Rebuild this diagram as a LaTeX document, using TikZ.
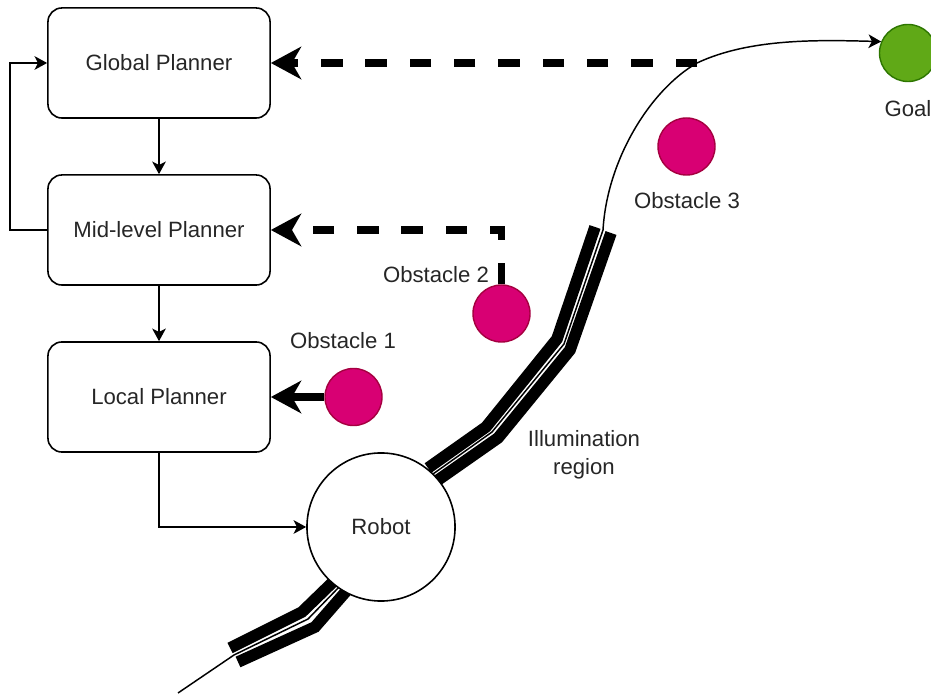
\documentclass[tikz,border=0pt]{standalone}
\usepackage{fontspec}
\setmainfont{Liberation Sans}
\usetikzlibrary{arrows.meta,backgrounds}
\definecolor{obsfill}{HTML}{D80073}
\definecolor{obsline}{HTML}{A50040}
\definecolor{goalfill}{HTML}{60A917}
\definecolor{goalline}{HTML}{2D7600}
\definecolor{txt}{HTML}{262626}
\begin{document}
\begin{tikzpicture}[x=0.01cm,y=-0.01cm,
  font=\fontsize{6.3pt}{7.6pt}\selectfont, text=txt,
  planner/.style={draw, rounded corners=0.14cm, minimum width=2.22cm,
    minimum height=1.1cm, line width=0.45pt, inner sep=0pt},
  robotnode/.style={circle, draw, fill=white, minimum size=1.48cm,
    inner sep=0pt, line width=0.45pt},
  obstacle/.style={circle, draw=obsline, fill=obsfill, minimum size=0.57cm,
    inner sep=0pt, line width=0.4pt},
  goalnode/.style={circle, draw=goalline, fill=goalfill, minimum size=0.57cm,
    inner sep=0pt, line width=0.4pt},
  tag/.style={inner sep=0pt},
  flow/.style={line width=0.42pt,
    -{Stealth[length=3.6pt,width=3.9pt,inset=1pt]}},
  feedback/.style={line width=2pt,
    -{Stealth[length=8.6pt,width=9.2pt,inset=2.6pt]}},
  fbdash/.style={feedback, dash pattern=on 6.1pt off 6.5pt},
  beam/.style={line width=3.3pt, line cap=butt, line join=miter},
  track/.style={line width=0.42pt}]
\useasboundingbox (0,0) rectangle (931,695);

% planner hierarchy
\node[planner] (global) at (159,63) {Global Planner};
\node[planner] (mid) at (159,230) {Mid-level Planner};
\node[planner] (local) at (159,397) {Local Planner};

% scene objects
\node[robotnode] (robot) at (381,527) {Robot};
\node[obstacle] (obs1) at (353.5,397) {};
\node[obstacle] (obs2) at (501.5,313.5) {};
\node[obstacle] (obs3) at (686.5,146.5) {};
\node[goalnode] (goal) at (908,53) {};

\node[tag] (obs1lbl) at (343,341) {Obstacle 1};
\node[tag] (obs2lbl) at (436,275) {Obstacle 2};
\node[tag] (obs3lbl) at (687,201) {Obstacle 3};
\node[tag] (goallbl) at (908,109) {Goal};
\node[tag, align=center, font=\fontsize{6.3pt}{7.97pt}\selectfont]
  (illum) at (584,455) {Illumination\\region};

\coordinate (tail) at (178,693);
\coordinate (junction) at (697,63);

% planner data flow
\draw[flow] (global) -- (mid);
\draw[flow] (mid) -- (local);
\draw[flow] (mid.west) -- ++(-37,0) |- (global.west);
\draw[flow] (local.south) |- (robot.west);

% feedback from the scene
\draw[fbdash] (junction) -- (global.east);
\draw[fbdash] (obs2.north) |- (mid.east);
\draw[feedback] (obs1.west) -- (local.east);

% illumination region (two walls) and robot track
\begin{pgfonlayer}{background}
\draw[beam] (230,648) -- (302,612) -- (335,580);
\draw[beam] (238,662) -- (315,627) -- (349,588);
\draw[beam] (428,468) -- (486,427) -- (557,339) -- (595,227);
\draw[beam] (438,480) -- (498,438) -- (570,350) -- (611,233);
\draw[track, -{Stealth[length=3.6pt,width=3.9pt,inset=1pt]}]
  (tail) -- (234,655) -- (308,619) -- (342,584) -- (robot.center)
  -- (433,474) -- (492,432) -- (564,344) -- (603,230)
  .. controls (607,160) and (650,90) .. (junction)
  .. controls (750,38) and (820,40) .. (goal.157);
\end{pgfonlayer}
\end{tikzpicture}
\end{document}
